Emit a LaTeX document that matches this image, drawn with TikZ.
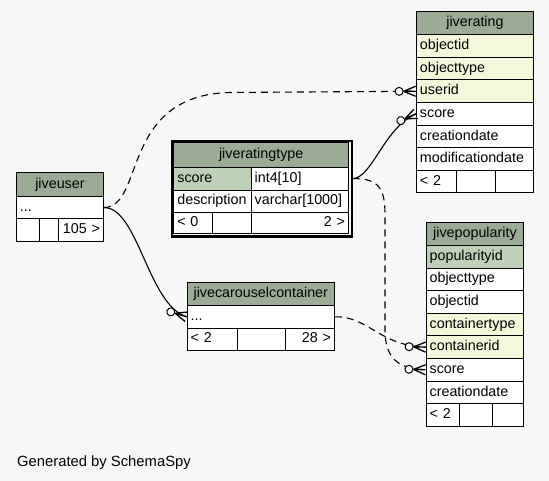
\documentclass[tikz,border=0pt]{standalone}
\usepackage{fontspec}
\setmainfont{Liberation Sans}
\usetikzlibrary{decorations.markings}
\newcommand{\cellfont}{\fontsize{14.3}{16}\selectfont}
\newcommand{\notefont}{\fontsize{14.8}{17}\selectfont}

\begin{document}
\begin{tikzpicture}[x=1pt, y=-1pt,
    cell/.style={draw=black, line width=0.9pt, fill=white, anchor=north west,
      inner xsep=3.5pt, inner ysep=0pt, text height=10.5pt, text depth=3.2pt,
      font=\cellfont, align=left},
    headcell/.style={cell, fill=headfill, align=center},
    fkline/.style={draw=black, line width=1.1pt},
    fkdash/.style={fkline, dash pattern=on 7pt off 5pt},
    crowodot/.style={postaction={decorate}, decoration={markings, mark=at position 0.999 with {
      \draw [solid, line width=1.3pt] (-12pt,0pt) -- (0pt,5pt) (-12pt,0pt) -- (0pt,0pt) (-12pt,0pt) -- (0pt,-5pt);
      \filldraw [solid, line width=1pt, fill=bgfill] (-16.5pt,0pt) circle (4pt);}}}]

% Changing colors
\definecolor{bgfill}{HTML}{F7F7F7}%
\definecolor{headfill}{HTML}{9BAB96}%
\definecolor{pkfill}{HTML}{BED1B8}%
\definecolor{fkfill}{HTML}{F4F7DA}%

% Background
\fill [bgfill] (0,0) rectangle (549,481);

% Table jiverating
\node (rating-head) [headcell, text width=110pt, minimum height=23.3pt] at (416,11) {jiverating};
\node (rating-objectid) [cell, fill=fkfill, text width=110pt, minimum height=22.6pt] at (416,34.3) {objectid};
\node (rating-objecttype) [cell, fill=fkfill, text width=110pt, minimum height=22.6pt] at (416,56.9) {objecttype};
\node (rating-userid) [cell, fill=fkfill, text width=110pt, minimum height=22.6pt] at (416,79.5) {userid};
\node (rating-score) [cell, text width=110pt, minimum height=22.6pt] at (416,102.1) {score};
\node (rating-creationdate) [cell, text width=110pt, minimum height=22.6pt] at (416,124.7) {creationdate};
\node (rating-modificationdate) [cell, text width=110pt, minimum height=22.6pt] at (416,147.3) {modificationdate};
\node (rating-foot-l) [cell, text width=32.7pt, minimum height=22.6pt] at (416,169.9) {< 2};
\node (rating-foot-m) [cell, minimum width=39.3pt, minimum height=22.6pt] at (455.7,169.9) {};
\node (rating-foot-r) [cell, minimum width=38pt, minimum height=22.6pt] at (495,169.9) {};

% Table jivepopularity
\node (pop-head) [headcell, text width=90.6pt, minimum height=22.7pt] at (425.7,222.3) {jivepopularity};
\node (pop-popularityid) [cell, fill=pkfill, text width=90.6pt, minimum height=22.6pt] at (425.7,245) {popularityid};
\node (pop-objecttype) [cell, text width=90.6pt, minimum height=22.6pt] at (425.7,267.6) {objecttype};
\node (pop-objectid) [cell, text width=90.6pt, minimum height=22.6pt] at (425.7,290.2) {objectid};
\node (pop-containertype) [cell, fill=fkfill, text width=90.6pt, minimum height=22.6pt] at (425.7,312.8) {containertype};
\node (pop-containerid) [cell, fill=fkfill, text width=90.6pt, minimum height=22.6pt] at (425.7,335.4) {containerid};
\node (pop-score) [cell, text width=90.6pt, minimum height=22.6pt] at (425.7,358) {score};
\node (pop-creationdate) [cell, text width=90.6pt, minimum height=22.6pt] at (425.7,380.6) {creationdate};
\node (pop-foot-l) [cell, text width=26.6pt, minimum height=22.6pt] at (425.7,403.2) {< 2};
\node (pop-foot-m) [cell, minimum width=32.4pt, minimum height=22.6pt] at (459.3,403.2) {};
\node (pop-foot-r) [cell, minimum width=31.6pt, minimum height=22.6pt] at (491.7,403.2) {};

% Table jiveratingtype
\node (type-frame) [draw=black, line width=2.2pt, anchor=north west, inner sep=0pt,
  minimum width=179.5pt, minimum height=95.5pt] at (171,140) {};
\node (type-head) [headcell, text width=167.7pt, minimum height=24.3pt] at (173.4,142.4) {jiveratingtype};
\node (type-score-name) [cell, fill=pkfill, text width=70.3pt, minimum height=23pt] at (173.4,166.7) {score};
\node (type-score-type) [cell, text width=90.4pt, minimum height=23pt] at (250.7,166.7) {int4[10]};
\node (type-desc-name) [cell, text width=70.3pt, minimum height=22pt] at (173.4,189.7) {description};
\node (type-desc-type) [cell, text width=90.4pt, minimum height=22pt] at (250.7,189.7) {varchar[1000]};
\node (type-foot-l) [cell, text width=31.3pt, minimum height=21.5pt] at (173.4,211.7) {< 0};
\node (type-foot-m) [cell, minimum width=39pt, minimum height=21.5pt] at (211.7,211.7) {};
\node (type-foot-r) [cell, align=right, text width=90.4pt, minimum height=21.5pt] at (250.7,211.7) {2 >};

% Table jiveuser
\node (user-head) [headcell, text width=80pt, minimum height=24pt] at (16,172) {jiveuser};
\node (user-dots) [cell, text width=80pt, minimum height=22.3pt] at (16,196) {...};
\node (user-foot-l) [cell, minimum width=23pt, minimum height=22.7pt] at (16,218.3) {};
\node (user-foot-m) [cell, minimum width=19pt, minimum height=22.7pt] at (39,218.3) {};
\node (user-foot-r) [cell, align=right, text width=38pt, minimum height=22.7pt] at (58,218.3) {105 >};

% Table jivecarouselcontainer
\node (carousel-head) [headcell, text width=140.3pt, minimum height=23pt] at (186.7,282) {jivecarouselcontainer};
\node (carousel-dots) [cell, text width=140.3pt, minimum height=22.7pt] at (186.7,305) {...};
\node (carousel-foot-l) [cell, text width=43.3pt, minimum height=22.3pt] at (186.7,327.7) {< 2};
\node (carousel-foot-m) [cell, minimum width=48pt, minimum height=22.3pt] at (237,327.7) {};
\node (carousel-foot-r) [cell, align=right, text width=42pt, minimum height=22.3pt] at (285,327.7) {28 >};

% Drawing connector jiveuser -> jiverating.userid
\draw [fkdash, crowodot] (user-dots.east) .. controls (145,207) and (120,95) .. (230,92.5) -- (rating-userid.west);

% Drawing connector jiveratingtype.score -> jiverating.score
\draw [fkline, crowodot] (type-score-type -| type-frame.east) .. controls (372,178) and (384,128) .. (rating-score.west);

% Drawing connector jiveuser -> jivecarouselcontainer
\draw [fkline, crowodot] (user-dots.east) .. controls (138,207) and (148,305) .. (carousel-dots.west);

% Drawing connector jivecarouselcontainer -> jivepopularity.containerid
\draw [fkdash, crowodot] (carousel-dots.east) .. controls (368,316) and (380,346) .. (pop-containerid.west);

% Drawing connector jiveratingtype.score -> jivepopularity.score
\draw [fkdash, crowodot] (type-score-type -| type-frame.east) .. controls (380,178) and (385,190) .. (385,215)
  -- (385,330) .. controls (385,358) and (398,369) .. (pop-score.west);

% Footer
\node (generated) [anchor=base west, font=\notefont, inner sep=0pt] at (17,466.7) {Generated by SchemaSpy};

\end{tikzpicture}
\end{document}
